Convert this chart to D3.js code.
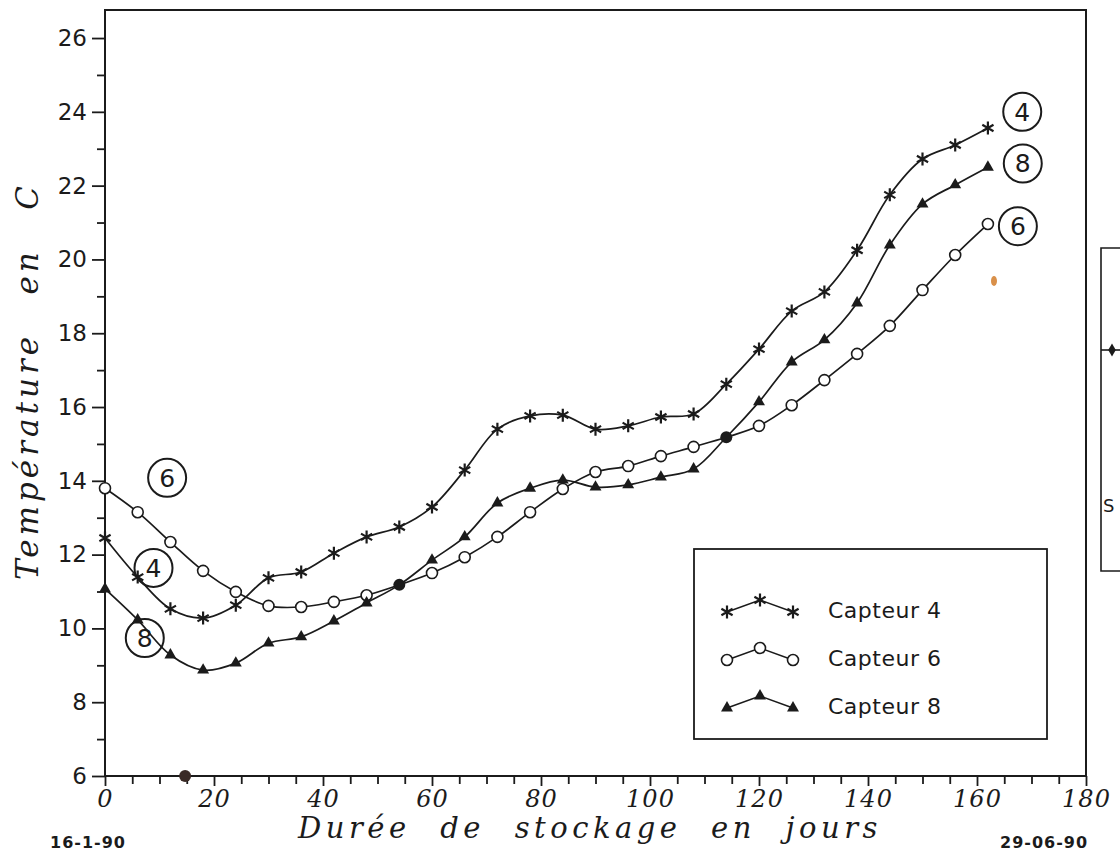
<!DOCTYPE html>
<html>
<head>
<meta charset="utf-8">
<script src="https://cdn.jsdelivr.net/npm/d3@7"></script>
<style>
  body { margin: 0; background: #fff; }
  svg { display: block; }
</style>
</head>
<body>
<div id="chart"></div>
<script>
// data (days of storage, temperature in C)
const days = [0, 6, 12, 18, 24, 30, 36, 42, 48, 54, 60, 66, 72, 78, 84, 90, 96, 102, 108, 114, 120, 126, 132, 138, 144, 150, 156, 162];
const capteur4 = [12.45, 11.39, 10.53, 10.28, 10.63, 11.37, 11.53, 12.04, 12.48, 12.75, 13.29, 14.29, 15.4, 15.76, 15.78, 15.4, 15.49, 15.73, 15.81, 16.62, 17.57, 18.6, 19.12, 20.25, 21.75, 22.72, 23.1, 23.56];
const capteur6 = [13.8, 13.15, 12.34, 11.56, 10.99, 10.61, 10.58, 10.72, 10.9, 11.18, 11.5, 11.93, 12.48, 13.15, 13.78, 14.24, 14.4, 14.67, 14.92, 15.18, 15.49, 16.05, 16.73, 17.44, 18.2, 19.17, 20.12, 20.96];
const capteur8 = [11.07, 10.23, 9.28, 8.87, 9.06, 9.6, 9.77, 10.2, 10.69, 11.18, 11.85, 12.48, 13.4, 13.8, 14.02, 13.83, 13.89, 14.1, 14.32, 15.18, 16.14, 17.22, 17.82, 18.82, 20.39, 21.5, 22.02, 22.5];
const sharedDays = [54, 114];   // where curves 6 and 8 meet (filled dot)
const seriesNames = ["Capteur 4", "Capteur 6", "Capteur 8"];
const yTicks = [6, 8, 10, 12, 14, 16, 18, 20, 22, 24, 26];
const xTicks = [0, 20, 40, 60, 80, 100, 120, 140, 160, 180];
const tagText = ["6", "4", "8", "4", "8", "6"];
const tagDay = [11.4, 8.9, 7.3, 168.3, 168.4, 167.5];
const tagTemp = [14.08, 11.64, 9.74, 24.0, 22.6, 20.9];
const startDate = "16-1-90";
const endDate = "29-06-90";

const width = 1120, height = 857;
const margin = {left: 105, right: 34, top: 10, bottom: 81};
const ink = "#1b1b1b";

const svg = d3.select("#chart").append("svg")
  .attr("width", width)
  .attr("height", height);

const x = d3.scaleLinear().domain([0, 180]).range([margin.left, width - margin.right]);
const y = d3.scaleLinear().domain([6, 26.76]).range([height - margin.bottom, margin.top]);

// frame
svg.append("rect")
  .attr("x", x(0)).attr("y", y(26.76))
  .attr("width", x(180) - x(0)).attr("height", y(6) - y(26.76))
  .attr("fill", "none").attr("stroke", ink).attr("stroke-width", 2);

// y axis: labelled every 2, minor ticks every 1
const yAxis = svg.append("g").attr("transform", `translate(${x(0)},0)`)
  .call(d3.axisLeft(y).tickValues(yTicks).tickSize(13).tickPadding(5).tickFormat(d3.format("d")));
yAxis.select(".domain").remove();
yAxis.selectAll("line").attr("stroke", ink).attr("stroke-width", 1.8);
yAxis.selectAll("text").attr("fill", ink)
  .style("font-family", "'DejaVu Sans', sans-serif").style("font-size", "23px");
svg.append("g").attr("transform", `translate(${x(0)},0)`)
  .call(d3.axisLeft(y).tickValues(d3.range(7, 26, 2)).tickSize(8).tickFormat(""))
  .call(g => g.select(".domain").remove())
  .selectAll("line").attr("stroke", ink).attr("stroke-width", 1.8);

// x axis: labelled every 20, ticks every 5
const xAxis = svg.append("g").attr("transform", `translate(0,${y(6)})`)
  .call(d3.axisBottom(x).tickValues(xTicks).tickSize(10).tickPadding(4).tickFormat(d3.format("d")));
xAxis.select(".domain").remove();
xAxis.selectAll("line").attr("stroke", ink).attr("stroke-width", 1.8);
xAxis.selectAll("text").attr("fill", ink)
  .style("font-family", "'DejaVu Serif', serif").style("font-style", "italic")
  .style("font-size", "24px").style("letter-spacing", "1px");
svg.append("g").attr("transform", `translate(0,${y(6)})`)
  .call(d3.axisBottom(x).tickValues(d3.range(5, 180, 5).filter(d => d % 20)).tickSize(8).tickFormat(""))
  .call(g => g.select(".domain").remove())
  .selectAll("line").attr("stroke", ink).attr("stroke-width", 1.8);

// stretch a title to a target width by widening the gaps between words
function spreadWords(sel, target) {
  const natural = sel.node().getComputedTextLength();
  const gaps = sel.text().split(" ").length - 1;
  sel.style("word-spacing", Math.max(0, (target - natural) / gaps) + "px");
}

// axis titles
const xTitle = svg.append("text")
  .attr("x", 590).attr("y", 838)
  .attr("text-anchor", "middle")
  .style("font-family", "'DejaVu Serif', serif").style("font-style", "italic")
  .style("font-size", "29px").style("letter-spacing", "4.5px").attr("fill", ink)
  .text("Durée de stockage en jours");
spreadWords(xTitle, 584);

const yTitle = svg.append("text")
  .attr("transform", "translate(38,381) rotate(-90)")
  .attr("text-anchor", "middle")
  .style("font-family", "'DejaVu Serif', serif").style("font-style", "italic")
  .style("font-size", "31px").style("letter-spacing", "4px").attr("fill", ink)
  .text("Température en C");
spreadWords(yTitle, 398);

svg.append("text").attr("x", 50).attr("y", 848)
  .style("font-family", "'DejaVu Sans', sans-serif").style("font-size", "16px")
  .style("font-weight", "bold").style("letter-spacing", "1px").attr("fill", ink).text(startDate);
svg.append("text").attr("x", 1000).attr("y", 848)
  .style("font-family", "'DejaVu Sans', sans-serif").style("font-size", "16px")
  .style("font-weight", "bold").style("letter-spacing", "1px").attr("fill", ink).text(endDate);

// markers
const star = "M0,-6.5L0,6.5M-5.6,-3.25L5.6,3.25M-5.6,3.25L5.6,-3.25";
function drawMarker(g, kind) {
  if (kind === 0) {
    g.append("path").attr("d", star).attr("stroke", ink).attr("stroke-width", 2.2).attr("fill", "none");
  } else if (kind === 1) {
    g.append("circle").attr("r", 5.5).attr("fill", "#fff").attr("stroke", ink).attr("stroke-width", 1.6);
  } else {
    g.append("path").attr("d", d3.symbol(d3.symbolTriangle, 62)()).attr("fill", ink);
  }
}

const allSeries = [capteur4, capteur6, capteur8];
const line = d3.line()
  .x((d, i) => x(days[i]))
  .y(d => y(d))
  .curve(d3.curveCatmullRom.alpha(0.5));

allSeries.forEach((vals, k) => {
  svg.append("path")
    .attr("d", line(vals))
    .attr("fill", "none").attr("stroke", ink).attr("stroke-width", 1.7);
  vals.forEach((v, i) => {
    if (k > 0 && sharedDays.includes(days[i])) return;
    const g = svg.append("g").attr("transform", `translate(${x(days[i])},${y(v)})`);
    drawMarker(g, k);
  });
});

// shared points of curves 6 and 8
sharedDays.forEach(d => {
  const i = days.indexOf(d);
  svg.append("circle").attr("cx", x(d)).attr("cy", y(capteur6[i]))
    .attr("r", 6).attr("fill", ink);
});

// circled curve tags
tagText.forEach((t, i) => {
  const cx = x(tagDay[i]), cy = y(tagTemp[i]);
  svg.append("circle").attr("cx", cx).attr("cy", cy).attr("r", 19)
    .attr("fill", "none").attr("stroke", ink).attr("stroke-width", 2);
  svg.append("text").attr("x", cx).attr("y", cy + 9)
    .attr("text-anchor", "middle")
    .style("font-family", "'DejaVu Sans', sans-serif").style("font-size", "25px")
    .attr("fill", ink).text(t);
});

// legend
const legend = svg.append("g");
legend.append("rect").attr("x", 694).attr("y", 549).attr("width", 353).attr("height", 190)
  .attr("fill", "#fff").attr("stroke", ink).attr("stroke-width", 1.8);
seriesNames.forEach((name, k) => {
  const ly = 612 + k * 48;
  const pts = [[727, ly], [760, ly - 12], [793, ly]];
  legend.append("path").attr("d", d3.line()(pts))
    .attr("fill", "none").attr("stroke", ink).attr("stroke-width", 1.6);
  pts.forEach(p => {
    const g = legend.append("g").attr("transform", `translate(${p[0]},${p[1]})`);
    drawMarker(g, k);
  });
  legend.append("text").attr("x", 828).attr("y", ly + 6)
    .style("font-family", "'DejaVu Sans', sans-serif").style("font-size", "22px")
    .style("letter-spacing", "0.5px").attr("fill", ink)
    .text(name.replace(" ", "  "));
});

// stray marks of the scanned page
svg.append("circle").attr("cx", x(14.7)).attr("cy", y(6)).attr("r", 6).attr("fill", "#3a2a26");
svg.append("ellipse").attr("cx", 994).attr("cy", 281).attr("rx", 3).attr("ry", 5).attr("fill", "#d9904a");

// edge of the neighbouring figure on the right
svg.append("path").attr("d", "M1130,248H1101V571H1130")
  .attr("fill", "none").attr("stroke", ink).attr("stroke-width", 1.6);
svg.append("path").attr("d", "M1101,350H1130").attr("stroke", ink).attr("stroke-width", 1.6);
svg.append("path").attr("d", d3.symbol(d3.symbolDiamond, 50)()).attr("transform", "translate(1112,350)").attr("fill", ink);
svg.append("text").attr("x", 1103).attr("y", 512)
  .style("font-family", "'DejaVu Sans', sans-serif").style("font-size", "18px")
  .attr("fill", ink).text("S");
</script>
</body>
</html>
